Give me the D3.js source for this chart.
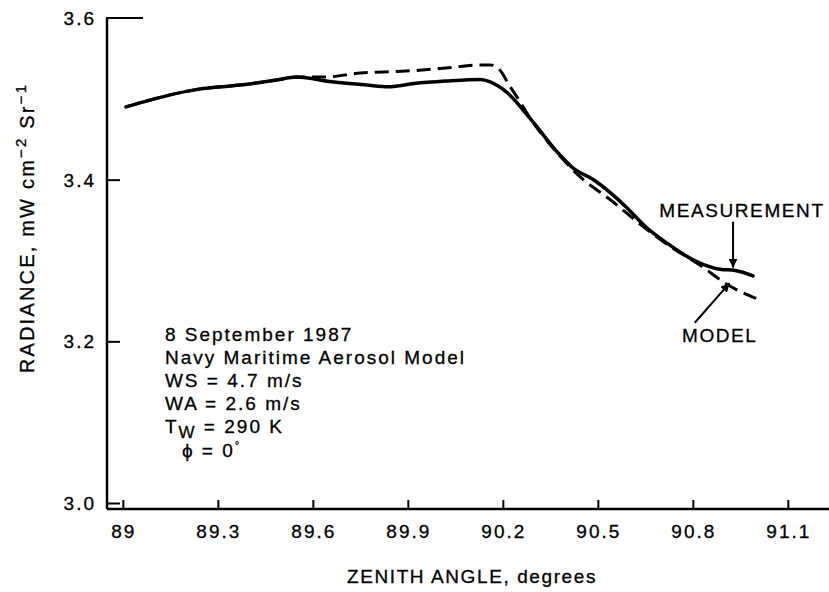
<!DOCTYPE html>
<html>
<head>
<meta charset="utf-8">
<script src="https://cdn.jsdelivr.net/npm/d3@7"></script>
<style>
  body { margin: 0; background: #fff; }
  text { font-family: 'Liberation Sans', Arial, sans-serif; fill: #000; stroke: #000; stroke-width: 0.3px; letter-spacing: 2px; }
</style>
</head>
<body>
<div id="chart"></div>
<script>
// values
let measAngle = [89.01, 89.14, 89.24, 89.37, 89.48, 89.55, 89.66, 89.77, 89.84, 89.92, 90.02, 90.13, 90.16, 90.21, 90.29, 90.37, 90.42, 90.49, 90.59, 90.65, 90.72, 90.81, 90.89, 90.93, 90.99]
let measRadiance = [3.490, 3.504, 3.512, 3.517, 3.523, 3.527, 3.521, 3.517, 3.515, 3.519, 3.522, 3.524, 3.521, 3.509, 3.474, 3.435, 3.415, 3.399, 3.366, 3.342, 3.321, 3.299, 3.289, 3.288, 3.281]

let modelAngle = [89.01, 89.14, 89.24, 89.37, 89.48, 89.55, 89.64, 89.75, 89.88, 90.02, 90.13, 90.16, 90.19, 90.22, 90.25, 90.29, 90.37, 90.44, 90.55, 90.63, 90.73, 90.82, 90.91, 91.0]
let modelRadiance = [3.490, 3.504, 3.512, 3.517, 3.523, 3.527, 3.527, 3.532, 3.534, 3.538, 3.542, 3.542, 3.536, 3.517, 3.499, 3.474, 3.434, 3.405, 3.372, 3.346, 3.317, 3.295, 3.270, 3.253]

let xTicks = [89, 89.3, 89.6, 89.9, 90.2, 90.5, 90.8, 91.1]
let yTicks = [3.0, 3.2, 3.4, 3.6]

let infoLines = ['8 September 1987', 'Navy Maritime Aerosol Model', 'WS = 4.7 m/s', 'WA = 2.6 m/s']

let width = 829
let height = 592

let svg = d3
  .select('#chart')
  .append('svg')
  .attr('width', width)
  .attr('height', height)

let xPositionScale = d3.scaleLinear().domain([88.95, 91.23]).range([107, 829])
let yPositionScale = d3.scaleLinear().domain([3.0, 3.6]).range([503, 18])

let x0 = xPositionScale.range()[0]
let yBottom = yPositionScale(2.9925)
let yTop = yPositionScale(3.6)

// axes (ticks point inward)
let xAxis = d3.axisTop(xPositionScale).tickValues(xTicks).tickSize(9).tickFormat('')
svg
  .append('g')
  .attr('class', 'axis x-axis')
  .attr('transform', 'translate(0,' + yBottom + ')')
  .call(xAxis)

let yAxis = d3.axisRight(yPositionScale).tickValues(yTicks.slice(0, 3)).tickSize(13).tickFormat('')
svg
  .append('g')
  .attr('class', 'axis y-axis')
  .attr('transform', 'translate(' + x0 + ',0)')
  .call(yAxis)

svg.selectAll('.axis .domain').remove()
svg.selectAll('.axis line').attr('stroke', '#000').attr('stroke-width', 2)

svg.append('line')
  .attr('x1', x0).attr('x2', width)
  .attr('y1', yBottom).attr('y2', yBottom)
  .attr('stroke', '#000').attr('stroke-width', 2.5)
svg.append('line')
  .attr('x1', x0).attr('x2', x0)
  .attr('y1', yTop).attr('y2', yBottom)
  .attr('stroke', '#000').attr('stroke-width', 2.5)
svg.append('line')
  .attr('x1', x0 - 1).attr('x2', x0 + 36)
  .attr('y1', yTop).attr('y2', yTop)
  .attr('stroke', '#000').attr('stroke-width', 2)

// tick labels
svg.selectAll('.x-label')
  .data(xTicks)
  .enter()
  .append('text')
  .attr('class', 'x-label')
  .attr('x', d => xPositionScale(d) + 1)
  .attr('y', 538)
  .attr('text-anchor', 'middle')
  .attr('font-size', 19)
  .text(d => d3.format('')(d))

svg.selectAll('.y-label')
  .data(yTicks)
  .enter()
  .append('text')
  .attr('class', 'y-label')
  .attr('x', 96)
  .attr('y', d => yPositionScale(d) + 7)
  .attr('text-anchor', 'end')
  .attr('font-size', 19)
  .text(d => d3.format('.1f')(d))

// axis titles
svg.append('text')
  .attr('x', 472)
  .attr('y', 583)
  .attr('text-anchor', 'middle')
  .attr('font-size', 19)
  .style('letter-spacing', '1.6px')
  .text('ZENITH ANGLE, degrees')

let yTitle = svg.append('text')
  .attr('transform', 'translate(34,228) rotate(-90)')
  .attr('text-anchor', 'middle')
  .attr('font-size', 20)
  .style('letter-spacing', '2.2px')
yTitle.append('tspan').text('RADIANCE, mW cm')
yTitle.append('tspan').attr('font-size', 15).attr('dy', -8).text('−2')
yTitle.append('tspan').attr('dy', 8).text(' Sr')
yTitle.append('tspan').attr('font-size', 15).attr('dy', -8).text('−1')

// curves
let measured = measAngle.map((a, i) => ({ angle: a, radiance: measRadiance[i] }))
let modelled = modelAngle.map((a, i) => ({ angle: a, radiance: modelRadiance[i] }))

let line = d3
  .line()
  .x(d => xPositionScale(d.angle))
  .y(d => yPositionScale(d.radiance))
  .curve(d3.curveMonotoneX)

svg.append('path')
  .datum(modelled)
  .attr('d', line)
  .attr('fill', 'none')
  .attr('stroke', '#000')
  .attr('stroke-width', 3)
  .attr('stroke-dasharray', '14,7')

svg.append('path')
  .datum(measured)
  .attr('d', line)
  .attr('fill', 'none')
  .attr('stroke', '#000')
  .attr('stroke-width', 3.5)
  .attr('stroke-linecap', 'round')

// arrows and labels
svg.append('defs')
  .append('marker')
  .attr('id', 'head')
  .attr('viewBox', '0 0 10 10')
  .attr('refX', 10)
  .attr('refY', 5)
  .attr('markerWidth', 9)
  .attr('markerHeight', 9)
  .attr('markerUnits', 'userSpaceOnUse')
  .attr('orient', 'auto')
  .append('path')
  .attr('d', 'M0,0 L10,5 L0,10 Z')
  .attr('fill', '#000')

svg.append('text')
  .attr('x', xPositionScale(90.955))
  .attr('y', yPositionScale(3.354))
  .attr('text-anchor', 'middle')
  .attr('font-size', 19)
  .style('letter-spacing', '1.6px')
  .text('MEASUREMENT')

svg.append('line')
  .attr('x1', xPositionScale(90.927)).attr('x2', xPositionScale(90.927))
  .attr('y1', yPositionScale(3.348)).attr('y2', yPositionScale(3.291))
  .attr('stroke', '#000').attr('stroke-width', 2)
  .attr('marker-end', 'url(#head)')

svg.append('text')
  .attr('x', xPositionScale(90.885))
  .attr('y', yPositionScale(3.199))
  .attr('text-anchor', 'middle')
  .attr('font-size', 19)
  .style('letter-spacing', '1.6px')
  .text('MODEL')

svg.append('line')
  .attr('x1', xPositionScale(90.806)).attr('x2', xPositionScale(90.916))
  .attr('y1', yPositionScale(3.223)).attr('y2', yPositionScale(3.272))
  .attr('stroke', '#000').attr('stroke-width', 2)
  .attr('marker-end', 'url(#head)')

// conditions block
let infoX = xPositionScale(89.133)
let infoY = yPositionScale(3.2)
let lineGap = 23

svg.selectAll('.info')
  .data(infoLines)
  .enter()
  .append('text')
  .attr('class', 'info')
  .attr('x', infoX)
  .attr('y', (d, i) => infoY + i * lineGap)
  .attr('font-size', 19)
  .text(d => d)

let tw = svg.append('text')
  .attr('x', infoX)
  .attr('y', infoY + 4 * lineGap)
  .attr('font-size', 19)
tw.append('tspan').text('T')
tw.append('tspan').attr('font-size', 17).attr('dy', 5).text('W')
tw.append('tspan').attr('dy', -5).text(' = 290 K')

let phi = svg.append('text')
  .attr('x', infoX + 17)
  .attr('y', infoY + 5 * lineGap + 1)
  .attr('font-size', 19)
phi.append('tspan').text('ϕ')
phi.append('tspan').text(' = 0')
phi.append('tspan').attr('font-size', 11).attr('dy', -8).text('°')
</script>
</body>
</html>
